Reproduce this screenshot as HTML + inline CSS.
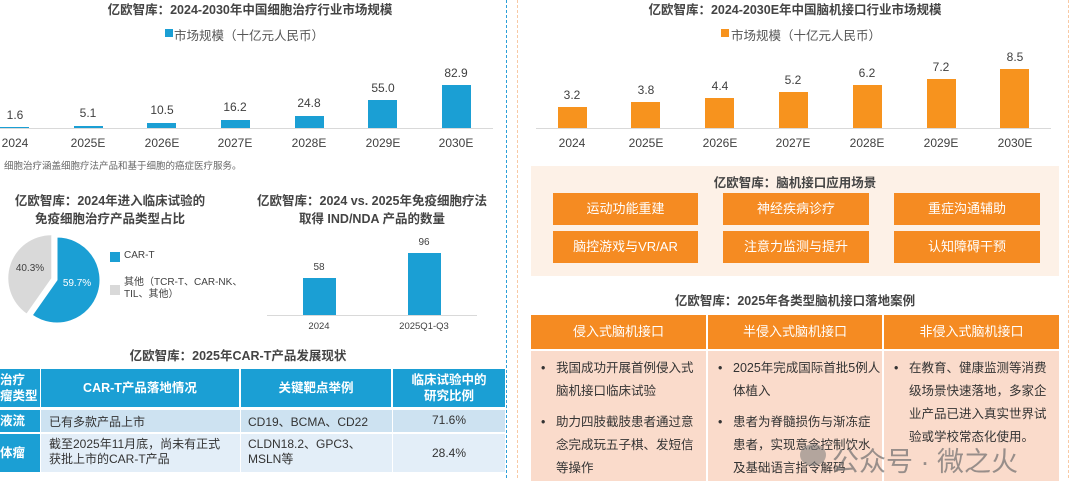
<!DOCTYPE html>
<html><head><meta charset="utf-8">
<style>
*{margin:0;padding:0;box-sizing:border-box}
body{width:1080px;height:478px;background:#fff;position:relative;overflow:hidden;font-family:"Liberation Sans","Noto Sans CJK SC",sans-serif;color:#404040}
.a{position:absolute}
.t{position:absolute;font-size:12px;white-space:nowrap;transform:translateX(-50%)}
.b{position:absolute;background:#1b9fd4}
.o{position:absolute;background:#f7931e}
.ttl{position:absolute;font-size:12.5px;font-weight:bold;color:#444;white-space:nowrap;transform:translateX(-50%)}
.btn{position:absolute;background:#f58b22;color:#fff;font-size:13px;text-align:center;line-height:32px;height:32px}
.th{position:absolute;background:#f58b22;color:#fff;font-size:13px;text-align:center;line-height:34px;top:315px;height:34px}
.td{position:absolute;background:#fadbcb;top:351px;height:130px;font-size:12.5px;line-height:23px;color:#333;overflow:hidden}
.td p{position:relative;padding-left:17px;margin-top:0;white-space:nowrap}
.td p:before{content:"•";position:absolute;left:2px}
.bh{position:absolute;background:#1b9fd4;color:#fff;font-size:12.5px;text-align:center;font-weight:bold}
.bc{position:absolute;font-size:12px;color:#333}
</style></head><body>

<div class="a" style="left:506px;top:0;height:478px;border-left:1.5px dashed #2c9fd8"></div>
<div class="a" style="left:517px;top:0;height:478px;border-left:1.5px dashed #f8c9a4"></div>
<div class="a" style="left:1068px;top:0;height:478px;border-left:1.5px dashed #f8c9a4"></div>

<div class="ttl" style="left:250px;top:-1px">亿欧智库：2024-2030年中国细胞治疗行业市场规模</div>
<div class="a" style="left:165px;top:29px;width:8px;height:8px;background:#1b9fd4"></div>
<div class="a" style="left:174px;top:25px;font-size:12.5px;color:#555">市场规模（十亿元人民币）</div>
<div class="a" style="left:0;top:128px;width:493px;height:1px;background:#d9d9d9"></div>
<div class="b" style="left:0;width:29px;top:127px;height:1px"></div>
<div class="b" style="left:74px;width:29px;top:126px;height:2px"></div>
<div class="b" style="left:147px;width:29px;top:123px;height:5px"></div>
<div class="b" style="left:221px;width:29px;top:120px;height:8px"></div>
<div class="b" style="left:295px;width:29px;top:115.5px;height:12.5px"></div>
<div class="b" style="left:368px;width:29px;top:99.5px;height:28.5px"></div>
<div class="b" style="left:442px;width:29px;top:85px;height:43px"></div>
<div class="t" style="left:15px;top:108px">1.6</div>
<div class="t" style="left:88px;top:106px">5.1</div>
<div class="t" style="left:162px;top:103px">10.5</div>
<div class="t" style="left:235px;top:100px">16.2</div>
<div class="t" style="left:309px;top:96px">24.8</div>
<div class="t" style="left:383px;top:81px">55.0</div>
<div class="t" style="left:456px;top:66px">82.9</div>
<div class="t" style="left:15px;top:136px">2024</div>
<div class="t" style="left:88px;top:136px">2025E</div>
<div class="t" style="left:162px;top:136px">2026E</div>
<div class="t" style="left:235px;top:136px">2027E</div>
<div class="t" style="left:309px;top:136px">2028E</div>
<div class="t" style="left:383px;top:136px">2029E</div>
<div class="t" style="left:456px;top:136px">2030E</div>
<div class="a" style="left:4px;top:158px;font-size:9.5px;color:#666">细胞治疗涵盖细胞疗法产品和基于细胞的癌症医疗服务。</div>

<div class="ttl" style="left:795px;top:-1px">亿欧智库：2024-2030E年中国脑机接口行业市场规模</div>
<div class="a" style="left:721px;top:29px;width:8px;height:8px;background:#f7931e"></div>
<div class="a" style="left:731px;top:25px;font-size:12.5px;color:#555">市场规模（十亿元人民币）</div>
<div class="a" style="left:536px;top:128px;width:515px;height:1px;background:#d9d9d9"></div>
<div class="o" style="left:558px;width:29px;top:107px;height:21px"></div>
<div class="o" style="left:631px;width:29px;top:102px;height:26px"></div>
<div class="o" style="left:705px;width:29px;top:97.5px;height:30.5px"></div>
<div class="o" style="left:779px;width:29px;top:92px;height:36px"></div>
<div class="o" style="left:853px;width:29px;top:85px;height:43px"></div>
<div class="o" style="left:927px;width:29px;top:78.5px;height:49.5px"></div>
<div class="o" style="left:1000px;width:29px;top:69px;height:59px"></div>
<div class="t" style="left:572px;top:88px">3.2</div>
<div class="t" style="left:646px;top:83px">3.8</div>
<div class="t" style="left:720px;top:79px">4.4</div>
<div class="t" style="left:793px;top:73px">5.2</div>
<div class="t" style="left:867px;top:66px">6.2</div>
<div class="t" style="left:941px;top:60px">7.2</div>
<div class="t" style="left:1015px;top:50px">8.5</div>
<div class="t" style="left:572px;top:136px">2024</div>
<div class="t" style="left:646px;top:136px">2025E</div>
<div class="t" style="left:720px;top:136px">2026E</div>
<div class="t" style="left:793px;top:136px">2027E</div>
<div class="t" style="left:867px;top:136px">2028E</div>
<div class="t" style="left:941px;top:136px">2029E</div>
<div class="t" style="left:1015px;top:136px">2030E</div>

<div class="ttl" style="left:110px;top:190px">亿欧智库：2024年进入临床试验的</div>
<div class="ttl" style="left:110px;top:208px">免疫细胞治疗产品类型占比</div>
<svg class="a" style="left:0;top:0" width="130" height="478">
<path d="M57 280 L57 237 A43 43 0 1 1 32.3 315.2 Z" fill="#1b9fd4" stroke="#fff" stroke-width="1"/>
<path d="M51.3 278.2 L26.6 313.4 A43 43 0 0 1 51.3 235.2 Z" fill="#d9d9d9"/>
<text x="30" y="271" font-size="10" fill="#404040" text-anchor="middle" font-family="Liberation Sans">40.3%</text>
<text x="77" y="286" font-size="10" fill="#fff" text-anchor="middle" font-family="Liberation Sans">59.7%</text>
</svg>
<div class="a" style="left:110px;top:252px;width:10px;height:10px;background:#1b9fd4"></div>
<div class="a" style="left:124px;top:250px;font-size:10px">CAR-T</div>
<div class="a" style="left:110px;top:285px;width:10px;height:10px;background:#d9d9d9"></div>
<div class="a" style="left:124px;top:277px;font-size:10px;line-height:12px">其他（TCR-T、CAR-NK、<br>TIL、其他）</div>

<div class="ttl" style="left:372px;top:190px">亿欧智库：2024 vs. 2025年免疫细胞疗法</div>
<div class="ttl" style="left:372px;top:208px">取得 IND/NDA 产品的数量</div>
<div class="a" style="left:267px;top:315px;width:210px;height:1px;background:#d9d9d9"></div>
<div class="b" style="left:303px;width:33px;top:278px;height:37px"></div>
<div class="b" style="left:408px;width:33px;top:253px;height:62px"></div>
<div class="t" style="left:319px;top:262px;font-size:10px">58</div>
<div class="t" style="left:424px;top:237px;font-size:10px">96</div>
<div class="t" style="left:319px;top:321px;font-size:9.5px">2024</div>
<div class="t" style="left:424px;top:321px;font-size:9.5px">2025Q1-Q3</div>

<div class="ttl" style="left:238px;top:345px">亿欧智库：2025年CAR-T产品发展现状</div>
<div class="bh" style="left:0;top:369px;width:40px;height:38px;line-height:16px;padding-top:3px;text-align:left">治疗<br>瘤类型</div>
<div class="bh" style="left:41px;top:369px;width:198px;height:38px;line-height:38px">CAR-T产品落地情况</div>
<div class="bh" style="left:241px;top:369px;width:150px;height:38px;line-height:38px">关键靶点举例</div>
<div class="bh" style="left:393px;top:369px;width:112px;height:38px;line-height:16px;padding-top:3px">临床试验中的<br>研究比例</div>
<div class="bh" style="left:0;top:410px;width:40px;height:22px;line-height:22px;text-align:left">液流</div>
<div class="a" style="left:41px;top:410px;width:464px;height:22px;background:#cde2f1"></div>
<div class="bc" style="left:49px;top:413px">已有多款产品上市</div>
<div class="bc" style="left:248px;top:413px">CD19、BCMA、CD22</div>
<div class="bc" style="left:449px;top:413px;transform:translateX(-50%)">71.6%</div>
<div class="bh" style="left:0;top:434px;width:40px;height:38px;line-height:38px;text-align:left">体瘤</div>
<div class="a" style="left:41px;top:434px;width:464px;height:38px;background:#e3eef8"></div>
<div class="a" style="left:240px;top:410px;width:1px;height:62px;background:#fff"></div>
<div class="a" style="left:392px;top:410px;width:1px;height:62px;background:#fff"></div>
<div class="bc" style="left:49px;top:437px;line-height:15px">截至2025年11月底，尚未有正式<br>获批上市的CAR-T产品</div>
<div class="bc" style="left:248px;top:437px;line-height:15px">CLDN18.2、GPC3、<br>MSLN等</div>
<div class="bc" style="left:449px;top:446px;transform:translateX(-50%)">28.4%</div>

<div class="a" style="left:531px;top:166px;width:528px;height:110px;background:#fdf1e7"></div>
<div class="ttl" style="left:795px;top:172px">亿欧智库：脑机接口应用场景</div>
<div class="btn" style="left:553px;top:193px;width:145px">运动功能重建</div>
<div class="btn" style="left:723px;top:193px;width:146px">神经疾病诊疗</div>
<div class="btn" style="left:894px;top:193px;width:146px">重症沟通辅助</div>
<div class="btn" style="left:553px;top:231px;width:145px">脑控游戏与VR/AR</div>
<div class="btn" style="left:723px;top:231px;width:146px">注意力监测与提升</div>
<div class="btn" style="left:894px;top:231px;width:146px">认知障碍干预</div>

<div class="ttl" style="left:795px;top:290px">亿欧智库：2025年各类型脑机接口落地案例</div>
<div class="th" style="left:531px;width:175px">侵入式脑机接口</div>
<div class="th" style="left:708px;width:174px">半侵入式脑机接口</div>
<div class="th" style="left:884px;width:175px">非侵入式脑机接口</div>
<div class="td" style="left:531px;width:175px;padding:6px 0 0 8px">
<p>我国成功开展首例侵入式<br>脑机接口临床试验</p><p style="margin-top:8px">助力四肢截肢患者通过意<br>念完成玩五子棋、发短信<br>等操作</p></div>
<div class="td" style="left:708px;width:174px;padding:6px 0 0 8px">
<p>2025年完成国际首批5例人<br>体植入</p><p style="margin-top:8px">患者为脊髓损伤与渐冻症<br>患者，实现意念控制饮水<br>及基础语言指令解码</p></div>
<div class="td" style="left:884px;width:175px;padding:6px 0 0 8px">
<p>在教育、健康监测等消费<br>级场景快速落地，多家企<br>业产品已进入真实世界试<br>验或学校常态化使用。</p></div>

<div class="a" style="left:800px;top:444px;width:26px;height:22px;border-radius:50%;background:rgba(120,120,120,0.55)"></div>
<div class="a" style="left:832px;top:440px;font-size:27px;color:rgba(110,110,110,0.7);white-space:nowrap">公众号 · 微之火</div>
</body></html>
